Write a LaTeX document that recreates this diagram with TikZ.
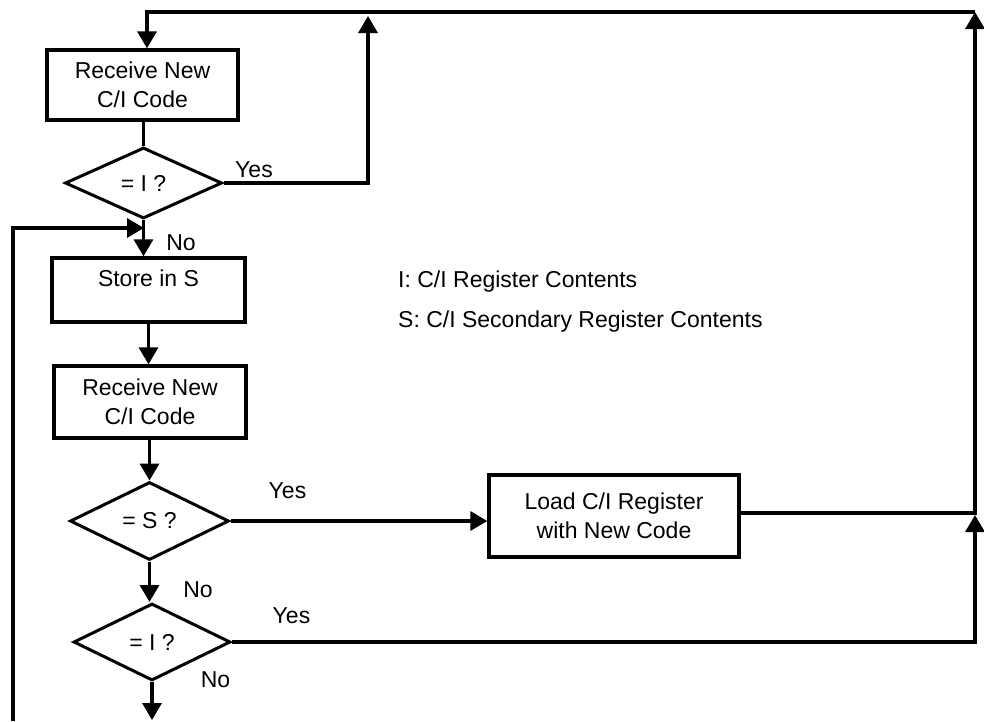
\documentclass[tikz,border=0pt]{standalone}
\usepackage{fontspec}
\setmainfont{Liberation Sans}
\usetikzlibrary{shapes.geometric,arrows.meta}
\begin{document}
\begin{tikzpicture}[x=1pt,y=-1pt,
  every node/.style={font=\fontsize{23}{29}\selectfont, inner sep=0pt},
  box/.style={draw, line width=3.3pt, rectangle, align=center},
  dec/.style={draw, line width=3pt, diamond, aspect=2},
  conn/.style={line width=3.3pt},
  arr/.style={line width=3.3pt, -{Triangle[length=17pt,width=19pt]}},
  lbl/.style={anchor=base},
]
\useasboundingbox (0,0) rectangle (984,721);

% process nodes
\node[box, minimum width=191pt, minimum height=70pt] (recv1) at (142.5,85) {Receive New\\C/I Code};
\node[dec, minimum width=157pt, minimum height=71pt] (d1) at (143.5,183) {= I ?};
\node[box, minimum width=193pt, minimum height=64pt, text height=17pt, text depth=24pt] (store) at (148.5,290) {Store in S};
\node[box, minimum width=192pt, minimum height=72pt] (recv2) at (150,402) {Receive New\\C/I Code};
\node[dec, minimum width=159pt, minimum height=78pt] (d2) at (149.5,521) {= S ?};
\node[dec, minimum width=157pt, minimum height=77pt] (d3) at (152,642) {= I ?};
\node[box, minimum width=250pt, minimum height=82pt] (load) at (614,516) {Load C/I Register\\with New Code};

% coordinates for free ends
\coordinate (tl) at (147,12);
\coordinate (rtop) at (975,12);
\coordinate (rmid) at (975,513);
\coordinate (rarr) at (975,515);
\coordinate (y1t) at (368,16);
\coordinate (fbb) at (13,721);
\coordinate (fbt) at (144,228);
\coordinate (bot) at (153,720);

% connectors
\draw[conn] (recv1.south -| d1.north) -- (d1.north);
\draw[arr] (d1.east) -| (y1t);
\draw[arr] (d1.south) -- (d1.south |- store.north);
\draw[arr] (store.south) -- (store.south |- recv2.north);
\draw[arr] (recv2.south -| d2.north) -- (d2.north);
\draw[arr] (d2.east) -- (d2.east -| load.west);
\draw[arr] (d2.south) -- (d2.south |- d3.north);
\draw[arr] (d3.south) -- (d3.south |- bot);
\draw[arr] (d3.east) -| (rarr);
\draw[arr] (load.east |- rmid) -- (rmid) -- (rtop);
\draw[arr] (rtop) -- (tl) -- (tl |- recv1.north);
\draw[arr] (fbb) |- (fbt);

% labels
\node[lbl] (yes1) at (254,177) {Yes};
\node[lbl] (no1) at (181,250) {No};
\node[lbl] (yes2) at (287.5,498) {Yes};
\node[lbl] (no2) at (198,597) {No};
\node[lbl] (yes3) at (291.5,623) {Yes};
\node[lbl] (no3) at (215.5,687) {No};

% legend
\node[anchor=base west] (leg1) at (398,287) {I: C/I Register Contents};
\node[anchor=base west] (leg2) at (398,327) {S: C/I Secondary Register Contents};
\end{tikzpicture}
\end{document}
